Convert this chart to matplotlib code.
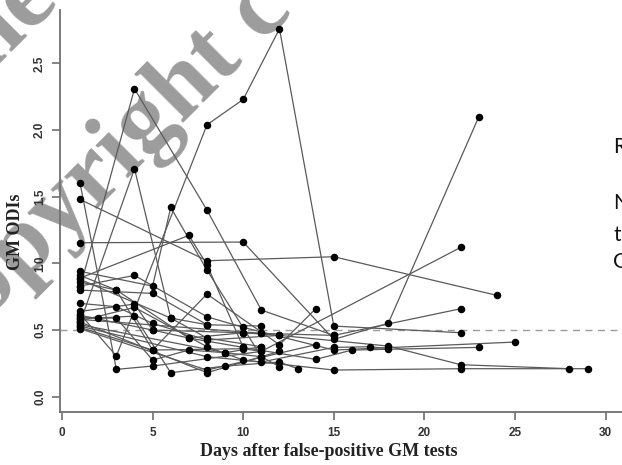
import numpy as np
import pandas as pd
import matplotlib
matplotlib.use("Agg")
import matplotlib.pyplot as plt

# GM ODI follow-up after a false-positive galactomannan test (long format)
patient = ([1] * 6 + [2] * 5 + [3] * 7 + [4] * 5 + [5] * 4 + [6] * 5 + [7] * 6 + [8] * 7 +
           [9] * 6 + [10] * 6 + [11] * 4 + [12] * 8 + [13] * 6 + [14] * 7 + [15] * 6 +
           [16] * 7 + [17] * 6 + [18] * 3 + [19] * 3 + [20] * 3 + [21] * 3 + [22] * 4 +
           [23] * 4 + [24] * 3 + [25] * 4)
day = [1, 4, 8, 11, 15, 22,
       1, 3, 5, 11, 22,
       1, 3, 8, 10, 12, 15, 22,
       1, 4, 6, 8, 11,
       1, 8, 15, 24,
       1, 10, 15, 18, 23,
       1, 5, 6, 8, 11, 12,
       1, 7, 8, 10, 14, 16, 23,
       1, 3, 5, 8, 12, 14,
       1, 4, 8, 10, 15, 25,
       1, 5, 8, 11,
       1, 3, 5, 8, 12, 18, 22, 28,
       1, 4, 5, 7, 10, 11,
       1, 2, 4, 6, 9, 12, 13,
       1, 3, 5, 7, 9, 11,
       1, 4, 8, 10, 15, 22, 29,
       1, 8, 11, 15, 17, 18,
       1, 8, 14,
       1, 8, 12,
       1, 11, 15,
       1, 9, 11,
       1, 5, 10, 12,
       1, 3, 7, 10,
       1, 6, 8,
       1, 5, 10, 11]
odi = [0.82, 2.31, 1.40, 0.65, 0.46, 0.66,
       1.60, 0.205, 0.23, 0.34, 1.12,
       0.62, 0.305, 2.04, 2.23, 2.76, 0.53, 0.48,
       0.555, 1.71, 0.59, 0.44, 0.375,
       1.48, 1.02, 1.05, 0.76,
       1.155, 1.16, 0.43, 0.55, 2.10,
       0.94, 0.83, 1.42, 0.95, 0.30, 0.225,
       0.89, 1.21, 0.99, 0.37, 0.28, 0.35, 0.37,
       0.86, 0.80, 0.35, 0.77, 0.39, 0.66,
       0.83, 0.91, 0.60, 0.52, 0.35, 0.41,
       0.80, 0.775, 0.54, 0.53,
       0.70, 0.675, 0.55, 0.425, 0.46, 0.38, 0.24, 0.21,
       0.64, 0.695, 0.50, 0.44, 0.48, 0.475,
       0.60, 0.59, 0.605, 0.18, 0.23, 0.26, 0.21,
       0.59, 0.59, 0.275, 0.35, 0.33, 0.30,
       0.57, 0.67, 0.375, 0.275, 0.20, 0.21, 0.21,
       0.53, 0.30, 0.26, 0.37, 0.375, 0.36,
       0.51, 0.20, 0.39,
       0.56, 0.18, 0.34,
       0.58, 0.475, 0.46,
       0.54, 0.33, 0.375,
       0.61, 0.50, 0.48, 0.46,
       0.91, 0.80, 0.44, 0.37,
       0.88, 0.59, 0.54,
       0.52, 0.35, 0.36, 0.34]

cutoff = 0.5
x_ticks = [0, 5, 10, 15, 20, 25, 30]
y_ticks = [0.0, 0.5, 1.0, 1.5, 2.0, 2.5]

df = pd.DataFrame({"patient": patient, "day": day, "odi": odi})

W, H = 622, 465
fig = plt.figure(figsize=(W / 100, H / 100), dpi=100)
fig.patch.set_facecolor("white")

# plot region: left spine at x=60px, bottom spine at y=411.7px, running off the top/right
ax = fig.add_axes([60 / W, (H - 411.7) / H, (W - 60) / W, 411.7 / H])
ax.set_xlim(-0.11, 30.9)
ax.set_ylim(-0.1125, 2.976)
# keep the data above the watermark
ax.set_zorder(2)
ax.patch.set_alpha(0)

# watermark
wm = dict(family="Liberation Serif", fontweight="bold", fontsize=72, color="#9c9c9c",
          rotation=45, rotation_mode="anchor", ha="left", va="baseline", zorder=1)
fig.text(-46 / W, (H - 352) / H, "copyright c", **wm)
fig.text(-42 / W, (H - 102) / H, "che", **wm)

for pid, g in df.groupby("patient"):
    g = g.sort_values("day")
    ax.plot(g["day"], g["odi"], color="#5a5a5a", lw=0.9, zorder=2)
    ax.plot(g["day"], g["odi"], "o", color="black", ms=4.4, zorder=3)

ax.axhline(cutoff, color="#9a9a9a", lw=1.0, ls=(0, (5, 4)), zorder=1)

for s in ("top", "right"):
    ax.spines[s].set_visible(False)
for s in ("left", "bottom"):
    ax.spines[s].set_color("#707070")
    ax.spines[s].set_linewidth(1.3)
ax.spines["left"].set_bounds(-0.1125, 2.9)

ax.set_xticks(x_ticks)
ax.set_xticklabels([str(t) for t in x_ticks])
ax.set_yticks(y_ticks)
ax.set_yticklabels([f"{t:.1f}" for t in y_ticks], rotation=90, va="center")
ax.tick_params(axis="both", direction="out", length=6, width=1.2, color="#707070",
               labelsize=8.5, labelcolor="#333333")
ax.tick_params(axis="x", pad=5)
ax.tick_params(axis="y", pad=4)
for lab in ax.get_xticklabels() + ax.get_yticklabels():
    lab.set_family("Liberation Sans")
    lab.set_fontweight("bold")

fig.text(329 / W, (H - 451) / H, "Days after false-positive GM tests",
         family="Liberation Serif", fontweight="bold", fontsize=13,
         ha="center", va="center", color="#222222", zorder=3)
fig.text(16 / W, (H - 232) / H, "GM ODIs", family="Liberation Serif",
         fontweight="bold", fontsize=13, rotation=90, ha="center", va="center",
         color="#222222", zorder=3)

# slide text cut off at the right edge
for txt, yc in [("R", 147), ("N", 203), ("t", 235), ("G", 262)]:
    fig.text(613 / W, (H - yc) / H, txt, family="Lato", fontsize=15,
             ha="left", va="center", color="#111111", zorder=3)

fig.savefig("out.png", dpi=100)
